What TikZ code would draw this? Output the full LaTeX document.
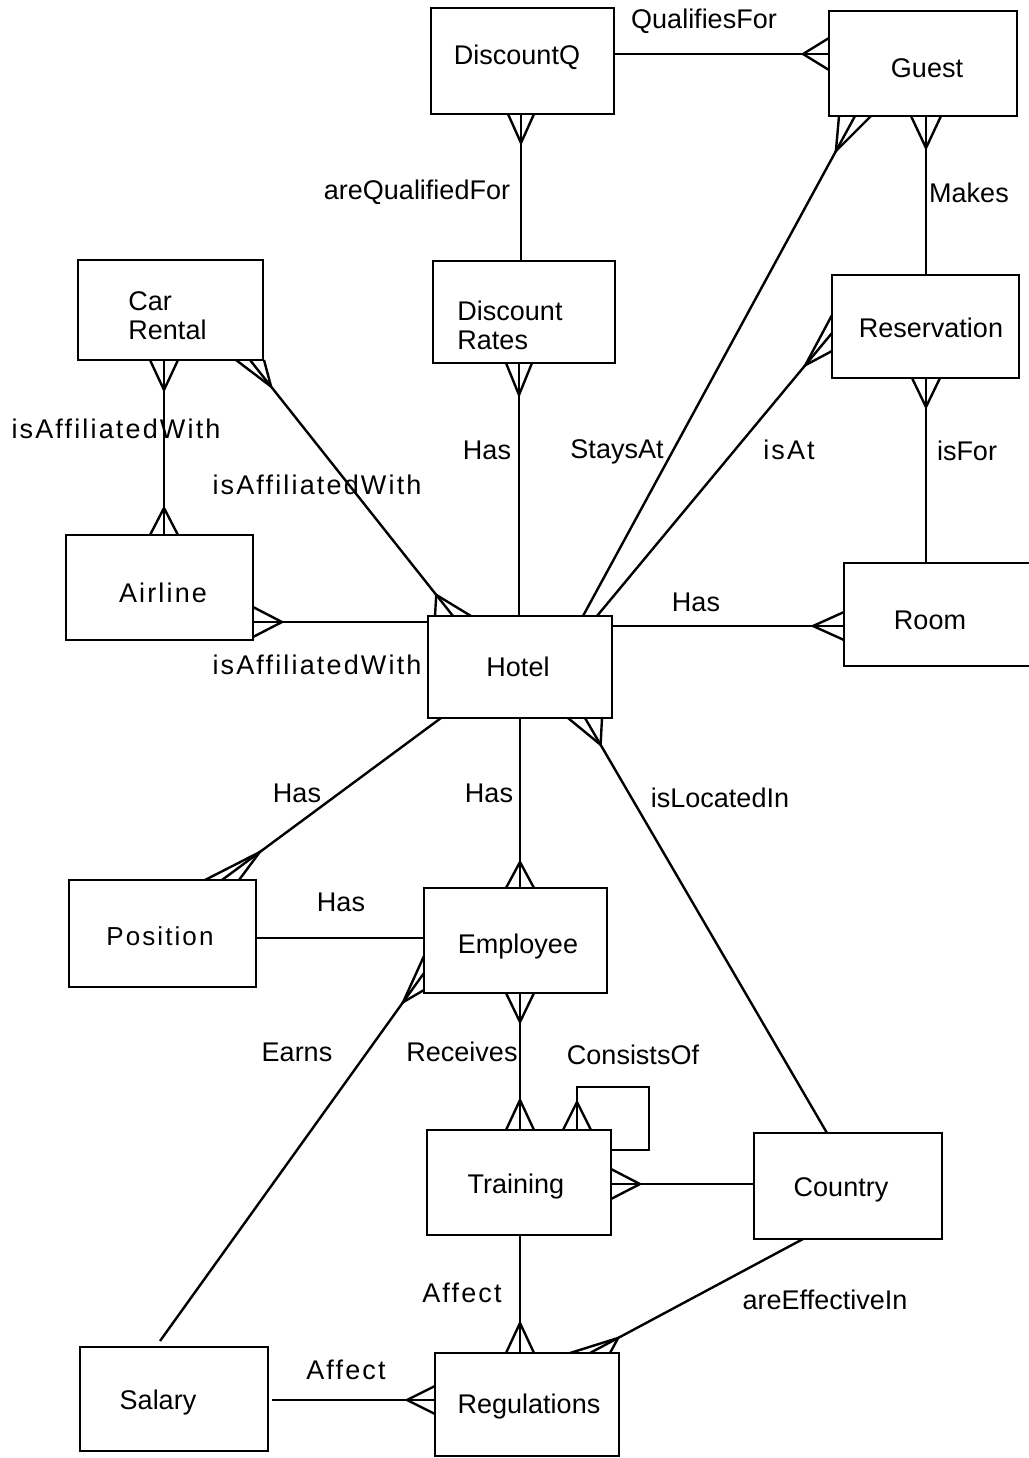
\documentclass[tikz,border=0pt]{standalone}
\usepackage{fontspec}
\setmainfont{Liberation Sans}
\newfontfamily\spc[LetterSpace=8]{Liberation Sans}
\usetikzlibrary{calc}
\newcommand{\crowfoot}[4]{\draw[conn] ($(#1)+(#4)$) -- ($(#1)!#3!(#2)$) -- ($(#1)-(#4)$);}
\tikzset{
  box/.style={draw, line width=1.3pt, inner sep=0pt, outer sep=0pt},
  nm/.style={font=\fontsize{13.5}{14.5}\selectfont, inner sep=0pt, text height=9.7pt, text depth=0pt},
  nm2/.style={font=\fontsize{13.5}{14.5}\selectfont, inner sep=0pt, align=left},
  lbl/.style={font=\fontsize{13.5}{16}\selectfont, inner sep=0pt, text height=9.7pt, text depth=0pt},
  slbl/.style={lbl, font=\spc\fontsize{13.5}{16}\selectfont},
  conn/.style={line width=1.2pt}
}
\begin{document}
\begin{tikzpicture}[x=0.5pt,y=-0.5pt]
\fill[white] (0,0) rectangle (1029,1458);
\useasboundingbox (0,0) rectangle (1029,1458);

% entities
\node[box, minimum width=91.5pt, minimum height=53pt, label={[nm,shift={(-5.5,-6)}]center:DiscountQ}] (dq) at (522.5,61) {};
\node[box, minimum width=94pt, minimum height=52.5pt, label={[nm,shift={(4,4.5)}]center:Guest}] (guest) at (923,63.5) {};
\node[box, minimum width=92.5pt, minimum height=50pt, label={[nm2,shift={(-3,5.5)}]center:Car\\Rental}] (car) at (170.5,310) {};
\node[box, minimum width=91pt, minimum height=51pt, label={[nm2,shift={(-14,13)}]center:Discount\\Rates}] (dr) at (524,312) {};
\node[box, minimum width=93.5pt, minimum height=51.5pt, label={[nm,shift={(5.5,1.5)}]center:Reservation}] (res) at (925.5,326.5) {};
\node[box, minimum width=93.5pt, minimum height=52.5pt, label={[nm,font=\spc\fontsize{13.5}{14.5}\selectfont,shift={(3.5,5.5)}]center:Airline}] (air) at (159.5,587.5) {};
\node[box, minimum width=92pt, minimum height=51pt, label={[nm,shift={(-2,0)}]center:Hotel}] (hotel) at (520,667) {};
\node[box, minimum width=100.5pt, minimum height=51.5pt, label={[nm,shift={(-14.5,5.5)}]center:Room}] (room) at (944.5,614.5) {};
\node[box, minimum width=93.5pt, minimum height=53.5pt, label={[nm,font=\spc\fontsize{13}{14.5}\selectfont,shift={(-2.5,2.5)}]center:Position}] (pos) at (162.5,933.5) {};
\node[box, minimum width=91.5pt, minimum height=52.5pt, label={[nm,shift={(2.5,3.5)}]center:Employee}] (emp) at (515.5,940.5) {};
\node[box, minimum width=92pt, minimum height=52.5pt, label={[nm,shift={(-3,1.5)}]center:Training}] (train) at (519,1182.5) {};
\node[box, minimum width=94pt, minimum height=53pt, label={[nm,shift={(-7,1)}]center:Country}] (country) at (848,1186) {};
\node[box, minimum width=92pt, minimum height=51.5pt, label={[nm,shift={(2,-0.5)}]center:Regulations}] (reg) at (527,1404.5) {};
\node[box, minimum width=94pt, minimum height=52pt, label={[nm,shift={(-16,1)}]center:Salary}] (sal) at (174,1399) {};

% connector end points
\coordinate (qfA) at ($(dq.north east)+(0,46)$);
\coordinate (qfB) at ($(guest.north west)+(0,43)$);
\coordinate (aqA) at ($(dq.south)+(-1.5,0)$);
\coordinate (aqB) at ($(dr.north)+(-3,0)$);
\coordinate (mkA) at ($(guest.south)+(3,0)$);
\coordinate (mkB) at ($(res.north)+(0.5,0)$);
\coordinate (saA) at ($(guest.south west)+(26,0)$);
\coordinate (saB) at ($(hotel.north west)+(155,0)$);
\coordinate (iaA) at ($(res.north west)+(0,58)$);
\coordinate (iaB) at ($(hotel.north west)+(169,0)$);
\coordinate (ifA) at ($(res.south)+(0.5,0)$);
\coordinate (ifB) at ($(room.north west)+(82,0)$);
\coordinate (hrA) at ($(hotel.north east)+(0,10)$);
\coordinate (hrB) at ($(room.north west)+(0,63)$);
\coordinate (dhA) at ($(dr.south)+(-5,0)$);
\coordinate (dhB) at ($(hotel.north)+(-1,0)$);
\coordinate (caA) at ($(car.south)+(-6.5,0)$);
\coordinate (caB) at ($(air.north)+(4.5,0)$);
\coordinate (chA) at ($(car.south west)+(172,0)$);
\coordinate (chB) at ($(hotel.north west)+(25,0)$);
\coordinate (ahA) at ($(air.north east)+(0,87)$);
\coordinate (ahB) at ($(hotel.north west)+(0,6)$);
\coordinate (hpA) at ($(hotel.south west)+(13,0)$);
\coordinate (hpB) at ($(pos.north west)+(153,0)$);
\coordinate (heA) at (hotel.south);
\coordinate (heB) at ($(emp.north)+(4.5,0)$);
\coordinate (peA) at ($(pos.north east)+(0,58)$);
\coordinate (peB) at ($(emp.north west)+(0,50)$);
\coordinate (esA) at ($(emp.north west)+(0,85)$);
\coordinate (esB) at ($(sal.north west)+(80,-6)$);
\coordinate (etA) at ($(emp.south)+(4.5,0)$);
\coordinate (etB) at ($(train.north)+(1,0)$);
\coordinate (lpA) at ($(train.north west)+(150,0)$);
\coordinate (lpU) at ($(lpA)+(0,-43)$);
\coordinate (lpC) at ($(train.north east)+(38,-43)$);
\coordinate (lpD) at ($(train.north east)+(0,20)$);
\coordinate (tcA) at ($(train.north east)+(0,54)$);
\coordinate (tcB) at ($(country.north west)+(0,51)$);
\coordinate (hcA) at ($(hotel.south west)+(157,0)$);
\coordinate (hcB) at ($(country.north west)+(73,0)$);
\coordinate (trA) at ($(train.south)+(1,0)$);
\coordinate (trB) at ($(reg.north)+(-7,0)$);
\coordinate (crA) at ($(country.south west)+(49,0)$);
\coordinate (crB) at ($(reg.north west)+(155,0)$);
\coordinate (srA) at ($(sal.north east)+(4,53)$);
\coordinate (srB) at ($(reg.north west)+(0,47)$);

% connectors
\draw[conn] (qfA) -- (qfB);  \crowfoot{qfB}{qfA}{13pt}{0,16}
\draw[conn] (aqA) -- (aqB);  \crowfoot{aqA}{aqB}{14.5pt}{13,0}
\draw[conn] (mkA) -- (mkB);  \crowfoot{mkA}{mkB}{16pt}{15,0}
\draw[conn] (saA) -- (saB);  \crowfoot{saA}{saB}{20pt}{16,0}
\draw[conn] (iaA) -- (iaB);  \crowfoot{iaA}{iaB}{21pt}{0,18}
\draw[conn] (ifA) -- (ifB);  \crowfoot{ifA}{ifB}{14.5pt}{14,0}
\draw[conn] (hrA) -- (hrB);  \crowfoot{hrB}{hrA}{15.5pt}{0,14}
\draw[conn] (dhA) -- (dhB);  \crowfoot{dhA}{dhB}{16pt}{13,0}
\draw[conn] (caA) -- (caB);  \crowfoot{caA}{caB}{15pt}{14,0} \crowfoot{caB}{caA}{13.5pt}{14,0}
\draw[conn] (chA) -- (chB);  \crowfoot{chA}{chB}{17pt}{14,0} \crowfoot{chB}{chA}{13.5pt}{18,0}
\draw[conn] (ahA) -- (ahB);  \crowfoot{ahA}{ahB}{14.5pt}{0,15}
\draw[conn] (hpA) -- (hpB);  \crowfoot{hpB}{hpA}{23.5pt}{17,0}
\draw[conn] (heA) -- (heB);  \crowfoot{heB}{heA}{13pt}{14,0}
\draw[conn] (peA) -- (peB);
\draw[conn] (esA) -- (esB);  \crowfoot{esA}{esB}{18pt}{0,17}
\draw[conn] (etA) -- (etB);  \crowfoot{etA}{etB}{14.5pt}{14,0} \crowfoot{etB}{etA}{15pt}{14,0}
\draw[conn] (lpA) |- (lpC) |- (lpD); \crowfoot{lpA}{lpU}{14pt}{14,0}
\draw[conn] (tcA) -- (tcB);  \crowfoot{tcA}{tcB}{14.5pt}{0,15}
\draw[conn] (hcA) -- (hcB);  \crowfoot{hcA}{hcB}{15.5pt}{17,0}
\draw[conn] (trA) -- (trB);  \crowfoot{trB}{trA}{15pt}{14,0}
\draw[conn] (crA) -- (crB);  \crowfoot{crB}{crA}{16pt}{20,0}
\draw[conn] (srA) -- (srB);  \crowfoot{srB}{srA}{14pt}{0,14}

% relationship labels
\node[lbl]  (l1)  at (704,19)   {QualifiesFor};
\node[lbl]  (l2)  at (417,190)  {areQualifiedFor};
\node[lbl]  (l3)  at (969,193)  {Makes};
\node[slbl] (l4)  at (116,429)  {isAffiliatedWith};
\node[slbl] (l5)  at (317,485)  {isAffiliatedWith};
\node[lbl]  (l6)  at (487,450)  {Has};
\node[lbl]  (l7)  at (617,449)  {StaysAt};
\node[slbl] (l8)  at (789,450)  {isAt};
\node[lbl]  (l9)  at (967,451)  {isFor};
\node[lbl]  (l10) at (696,602)  {Has};
\node[slbl] (l11) at (317,665)  {isAffiliatedWith};
\node[lbl]  (l12) at (297,793)  {Has};
\node[lbl]  (l13) at (489,793)  {Has};
\node[lbl]  (l14) at (720,798)  {isLocatedIn};
\node[lbl]  (l15) at (341,902)  {Has};
\node[lbl]  (l16) at (297,1052) {Earns};
\node[lbl]  (l17) at (462,1052) {Receives};
\node[lbl]  (l18) at (633,1055) {ConsistsOf};
\node[slbl] (l19) at (462,1293) {Affect};
\node[lbl]  (l20) at (825,1300) {areEffectiveIn};
\node[slbl] (l21) at (346,1370) {Affect};
\end{tikzpicture}
\end{document}
